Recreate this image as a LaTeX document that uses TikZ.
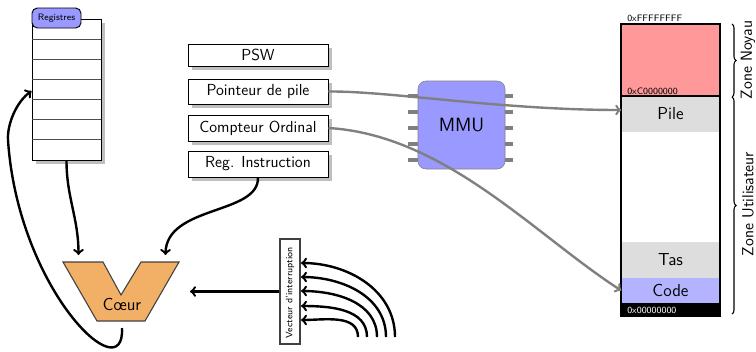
\documentclass[tikz,border=0pt]{standalone}
\usetikzlibrary{shadows,decorations.pathreplacing}
\definecolor{bleureg}{HTML}{9999FF}
\definecolor{bleucode}{HTML}{B3B3FF}
\definecolor{rouge}{HTML}{FF9999}
\definecolor{grispile}{HTML}{DDDDDD}
\definecolor{orangecoeur}{HTML}{F2B066}
\tikzset{
  ombre/.style={drop shadow={shadow xshift=3pt,shadow yshift=-3pt,fill=black!25,opacity=1}},
  registre/.style={draw,line width=.7pt,inner sep=0pt,minimum width=140*.75pt,fill=white,font=\sffamily\large,ombre},
  zone/.style={inner sep=0pt,minimum width=98*.75pt,font=\sffamily\fontsize{13}{15}\selectfont},
  petit/.style={font=\sffamily\scriptsize,inner sep=0pt},
  fleche/.style={->,line width=1.8pt},
  liaison/.style={->,line width=1.8pt,gray},
  patte/.style={line width=3.2pt,gray},
  accolade/.style={decorate,decoration={brace,amplitude=3pt},thick}
}
\begin{document}
\begin{tikzpicture}[x=.75pt,y=-.75pt,font=\sffamily]
  \useasboundingbox (0,0) rectangle (756,351);
  % registres
  \node[draw,line width=.7pt,fill=white,inner sep=0pt,minimum width=69*.75pt,minimum height=141*.75pt,ombre] (banc) at (66.5,89.5) {};
  \foreach \y in {39.5,59.5,79.5,99.5,119.5,139.5}
    \draw[line width=.9pt,black!70] (32,\y) -- (101,\y);
  \node[draw,line width=.7pt,fill=bleureg,rounded corners=4pt,minimum width=49*.75pt,minimum height=20*.75pt,petit] (titre) at (56.5,18) {Registres};
  % registres speciaux
  \node[registre,minimum height=22*.75pt] (psw) at (258,55) {PSW};
  \node[registre,minimum height=25*.75pt] (pile) at (258,91.5) {Pointeur de pile};
  \node[registre,minimum height=26*.75pt] (ordinal) at (258,128) {Compteur Ordinal};
  \node[registre,minimum height=26*.75pt] (instr) at (258,164) {Reg. Instruction};
  % mmu
  \foreach \y in {96,112,128,144,160} {
    \draw[patte] (408,\y) -- (420,\y);
    \draw[patte] (503,\y) -- (513,\y);
  }
  \node[draw=gray,fill=bleureg,rounded corners=6pt,inner sep=0pt,minimum width=87*.75pt,minimum height=88*.75pt,font=\sffamily\Large] (mmu) at (461.5,125) {MMU};
  % coeur
  \filldraw[draw=black!75,thick,fill=orangecoeur] (63,262) -- (103,262) -- (121,295) -- (141,262) -- (179,262) -- (145,321) -- (97,321) -- cycle;
  \node[font=\sffamily\fontsize{13}{15}\selectfont] (coeur) at (122,304) {C\oe ur};
  \coordinate (entreeg) at (78.5,255);
  \coordinate (entreed) at (165.5,255);
  \coordinate (sortie) at (122,328);
  \coordinate (passage) at (8,140);
  \coordinate (entreev) at (190,291.5);
  % vecteur d'interruption
  \node[draw,thick,black!75,inner sep=0pt,minimum width=20*.75pt,minimum height=105*.75pt] (vecteur) at (290,291.5) {};
  \node[rotate=90,petit] (vecttxt) at (290,293) {Vecteur d'interruption};
  \coordinate (irqa) at (358,337);
  \coordinate (irqb) at (367,337);
  \coordinate (irqc) at (377,337);
  \coordinate (irqd) at (386,337);
  \coordinate (irqe) at (395,337);
  \draw[fleche] (irqa) to[out=90,in=0] (301,320);
  \draw[fleche] (irqb) to[out=90,in=0] (301,306);
  \draw[fleche] (irqc) to[out=90,in=0] (301,291);
  \draw[fleche] (irqd) to[out=90,in=0] (301,277);
  \draw[fleche] (irqe) to[out=90,in=0] (301,263);
  % memoire
  \node[zone,fill=rouge,minimum height=72*.75pt] (noyau) at (670.5,60) {};
  \node[zone,fill=grispile,minimum height=36*.75pt] (mempile) at (670.5,114) {Pile};
  \node[zone,fill=grispile,minimum height=36*.75pt] (tas) at (670.5,260) {Tas};
  \node[zone,fill=bleucode,minimum height=25*.75pt] (code) at (670.5,290.5) {Code};
  \node[zone,fill=black,minimum height=13*.75pt] (bas) at (670.5,309.5) {};
  \node[draw,line width=1.5pt,inner sep=0pt,minimum width=99*.75pt,minimum height=292*.75pt] (memoire) at (670.5,170) {};
  \draw[line width=1.5pt] (noyau.south west) -- (noyau.south east);
  \node[petit,anchor=west] (hauta) at (627,18.5) {0xFFFFFFFF};
  \node[petit,anchor=west] (hautb) at (627,91.5) {0xC0000000};
  \node[petit,anchor=west,text=white] (hautc) at (627,310) {0x00000000};
  % accolades
  \coordinate (nha) at (732,24);
  \coordinate (nhb) at (732,97);
  \coordinate (nhc) at (732,314);
  \draw[accolade] (nha) -- (nhb);
  \draw[accolade] (nhb) -- (nhc);
  \node[rotate=90,font=\sffamily\large] (znoyau) at (748,60) {Zone Noyau};
  \node[rotate=90,font=\sffamily\large] (zutil) at (748,204) {Zone Utilisateur};
  % liaisons
  \draw[fleche] (banc.south) to[out=-90,in=90] (entreeg);
  \draw[fleche] (instr.south) .. controls (259,215) and (166,205) .. (entreed);
  \draw[fleche] (vecteur.west) -- (entreev);
  \draw[fleche] (sortie) .. controls (125,392) and (18,290) .. (passage) .. controls (7,125) and (16,102) .. (banc.west |- 0,91);
  \draw[liaison] (pile.east) .. controls (390,91) and (500,110) .. ([yshift=3pt]mempile.west);
  \draw[liaison] (ordinal.east) .. controls (445,135) and (535,235) .. (code.west);
\end{tikzpicture}
\end{document}
